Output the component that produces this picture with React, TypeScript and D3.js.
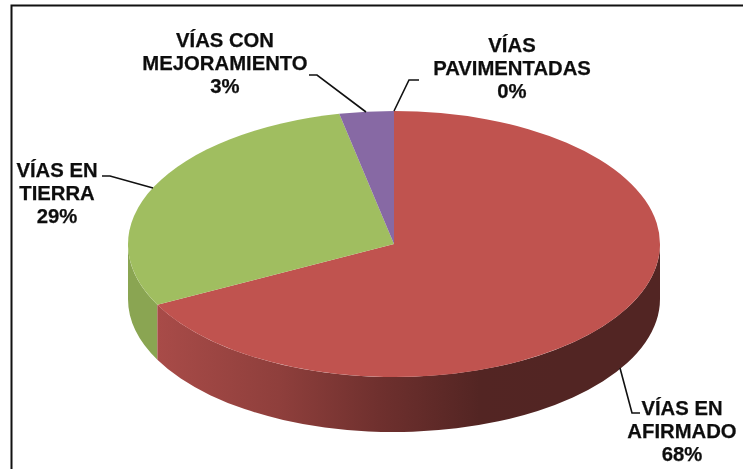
import React from "react";
import * as d3 from "d3";

const categories = ["VÍAS PAVIMENTADAS", "VÍAS EN AFIRMADO", "VÍAS EN TIERRA", "VÍAS CON MEJORAMIENTO"];
const values = [0, 67.45, 29.25, 3.3];
const topColors = ["#4f81bd", "#c0534f", "#a0be60", "#8769a4"];
const labelLines = [["VÍAS", "PAVIMENTADAS", "0%"], ["VÍAS EN", "AFIRMADO", "68%"], ["VÍAS EN", "TIERRA", "29%"], ["VÍAS CON", "MEJORAMIENTO", "3%"]];
const labelAnchors = [[512, 52], [682, 415], [57, 177], [225, 47]];
const leaders = [
  [[419, 80], [409, 80], [394, 111]],
  [[640, 413], [632, 413], [620, 368]],
  [[102, 176], [110, 176], [153, 188]],
  [[309, 75], [317, 75], [366, 112]],
];
const redStops = [[0, "#a84b48"], [0.3, "#8f3f3c"], [0.55, "#6f302e"], [0.8, "#532523"], [1, "#522523"]];

const cx = 394, cy = 244, rx = 266, ry = 133, depth = 55;

function pt(a: number, dy = 0) {
  return [cx + rx * Math.sin(a), cy - ry * Math.cos(a) + dy];
}
function wall(a0: number, a1: number) {
  const [x0, y0] = pt(a0);
  const [x1, y1] = pt(a1);
  const [x2, y2] = pt(a1, depth);
  const [x3, y3] = pt(a0, depth);
  return `M${x0},${y0}A${rx},${ry} 0 0 1 ${x1},${y1}L${x2},${y2}A${rx},${ry} 0 0 0 ${x3},${y3}Z`;
}

export default function App() {
  const pie = d3.pie<number>().sort(null).value((d) => d);
  const arcs = pie(values);
  const arc = d3.arc<d3.PieArcDatum<number>>().innerRadius(0).outerRadius(rx);
  const line = d3.line();
  const redEnd = arcs[1].endAngle;
  return (
    <svg width={743} height={469} viewBox="0 0 743 469" style={{ position: "absolute", left: 0, top: 0, background: "#fff" }} fontFamily="'Liberation Sans', Arial, sans-serif">
      <defs>
        <linearGradient id="redWall" gradientUnits="userSpaceOnUse" x1={158} x2={560} y1={0} y2={0}>
          {redStops.map(([o, c]) => <stop key={String(o)} offset={o as number} stopColor={c as string} />)}
        </linearGradient>
        <filter id="soft" x="-5%" y="-5%" width="110%" height="110%">
          <feGaussianBlur stdDeviation={0.4} />
        </filter>
      </defs>
      <path d="M11.5,469V5.5H743" fill="none" stroke="#111" strokeWidth={2} />
      <path d={wall(arcs[2].startAngle, Math.PI * 1.5)} fill="#8aa552" />
      <path d={wall(Math.PI / 2, redEnd)} fill="url(#redWall)" />
      <g transform={`translate(${cx},${cy}) scale(1,${ry / rx})`}>
        {arcs.map((d, i) => (
          <path key={categories[i]} d={arc(d) ?? ""} fill={topColors[i]} />
        ))}
      </g>
      {leaders.map((l, i) => (
        <path key={i} d={line(l as [number, number][]) ?? ""} fill="none" stroke="#111" strokeWidth={1.6} />
      ))}
      <g filter="url(#soft)">
        {labelLines.map((lines, i) => (
          <text key={i} textAnchor="middle" fontWeight={700} fontSize={20.3} fill="#111" stroke="#111" strokeWidth={0.25}>
            {lines.map((t, j) => (
              <tspan key={j} x={labelAnchors[i][0]} y={labelAnchors[i][1] + j * 23.2}>{t}</tspan>
            ))}
          </text>
        ))}
      </g>
    </svg>
  );
}
